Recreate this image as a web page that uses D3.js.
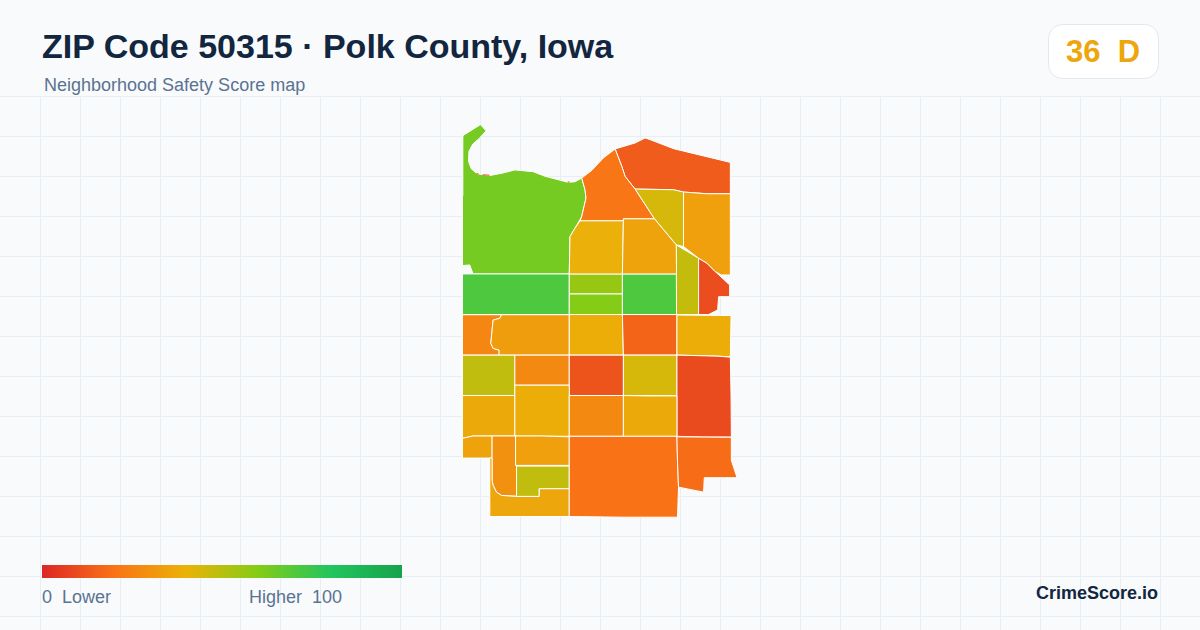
<!DOCTYPE html>
<html>
<head>
<meta charset="utf-8">
<script src="https://cdn.jsdelivr.net/npm/d3@7"></script>
<style>
  html, body { margin: 0; padding: 0; background: #f8fafc; }
  svg { display: block; }
  text { font-family: "Liberation Sans", Arial, Helvetica, sans-serif; white-space: pre; }
</style>
</head>
<body>
<script>
const width = 1200;
const height = 630;

const titleText = "ZIP Code 50315 \u00b7 Polk County, Iowa";
const subtitleText = "Neighborhood Safety Score map";
const brandText = "CrimeScore.io";
const zipScore = 36;
const zipGrade = "D";

const stopValues = [0, 20, 40, 60, 80, 100];
const stopColors = ["#dc2626", "#f97316", "#eab308", "#84cc16", "#22c55e", "#16a34a"];
const legendLow = "0  Lower";
const legendHigh = "Higher  100";

// block scores, same order as blockRings
const blockScores = [
  63, 71, 56, 60, 71, 47.5, 10, 14, 21, 44, 34, 39, 35,
  26, 33, 38, 16, 38,
  48, 27, 12, 44, 9.5,
  37, 38, 27, 37,
  35, 29, 34, 48, 36, 20, 18.5
];

// block outlines in map units (origin = NW corner of the ZIP)
const blockRings = [
  [[0.4,11],[18,0],[23.6,6.2],[16.6,14],[10.4,19.4],[6.5,26.7],[6.1,36.7],[8.8,44],[14.5,49],[27.3,50.8],[40.6,48.2],[52.3,45.2],[62.3,46.2],[70.6,47],[82.3,51.5],[95.6,55],[105.6,57.6],[112.3,57],[119,53.3],[122.3,65],[123.3,73.3],[119,91.7],[112.3,103.3],[107.3,111.7],[106.6,149],[10.6,149],[7.3,140],[0,140.7],[0,71.7],[0.4,71]],
  [[0,149],[106.6,149],[106.6,189.5],[0,189.5]],
  [[106.6,149],[159.6,149],[159.6,169],[106.6,169]],
  [[106.6,169],[159.6,169],[159.6,189.5],[106.6,189.5]],
  [[159.6,149],[213.6,149],[213.6,189.5],[159.6,189.5]],
  [[213.3,120],[235.6,133.3],[235.6,189.5],[213.6,189.5]],
  [[235.6,133.3],[244,138.3],[252.3,146.7],[266.6,160],[266.6,171.7],[255.6,171.7],[254.6,185],[245.6,189.5],[235.6,189.5]],
  [[152.3,24.3],[172.3,18.3],[182.3,13.3],[189,15.7],[210.6,24],[267.3,37.7],[267.3,69],[244,69],[220.6,67.3],[210.6,65],[172.3,64.3],[162.3,51.7],[159,41.7]],
  [[119,53.3],[129,45.7],[140.6,33.3],[152.3,24.3],[159,41.7],[162.3,51.7],[172.3,64.3],[191.6,94],[160.6,94],[160.6,96],[117.3,96],[119,91.7],[123.3,73.3],[122.3,65]],
  [[172.3,64.3],[210.6,65],[220.6,67.3],[220.6,121.7],[213.3,120],[191.6,94]],
  [[220.6,67.3],[244,69],[267.3,69],[267.3,150],[258.3,150],[252.3,146.7],[244,138.3],[235.6,133.3],[220.6,121.7]],
  [[117.3,96],[160.6,96],[159.6,149],[106.6,149],[107.3,111.7],[112.3,103.3]],
  [[160.6,94],[191.6,94],[213.3,120],[213.6,149],[159.6,149]],
  [[0,189.7],[39,189.7],[37.3,193.3],[30.6,195],[29.6,205],[28.3,218.3],[30.6,223.3],[36.6,225],[36.6,230],[0,230]],
  [[39,189.7],[106.6,189.7],[106.6,230],[36.6,230],[36.6,225],[30.6,223.3],[28.3,218.3],[29.6,205],[30.6,195],[37.3,193.3]],
  [[106.6,189.5],[159.6,189.5],[160.6,230],[106.6,230]],
  [[159.6,189.5],[214,189.5],[214,230],[160.6,230]],
  [[214,190],[268,190.5],[267.3,231.7],[254,231],[214,230]],
  [[0,230],[52.3,230],[52.3,270.3],[0,270.3]],
  [[52.3,230],[106.6,230],[106.6,260],[52.3,260]],
  [[106.6,230],[160.6,230],[160.6,270.3],[106.6,270.3]],
  [[160.6,230],[214,230],[214,270.7],[183,270.3],[160.6,270.3]],
  [[214,230],[254,231],[267.3,232],[268,271.7],[268.3,311.7],[240.6,311.7],[214,311]],
  [[0,270.3],[52.3,270.3],[52.3,310.7],[10.6,310.7],[0,313]],
  [[52.3,260],[106.6,260],[106.6,311],[52.3,310.7]],
  [[106.6,270.3],[160.6,270.3],[160.6,311],[106.6,311]],
  [[160.6,270.3],[183,270.7],[214,270.7],[214,311],[160.6,311]],
  [[0,313],[10.6,310.7],[29.6,310.7],[29.6,332.7],[0,332.7]],
  [[29.6,310.7],[53,310.7],[53,340],[54,340.7],[54,370.7],[39,370],[34,366.7],[30.6,360],[29.6,355]],
  [[53,310.7],[79,310.7],[106.6,311.5],[106.6,340],[53,340]],
  [[54,340.7],[106.6,340.7],[106.6,363.3],[76.6,363.3],[76.6,371],[54,371]],
  [[29.6,332.7],[29.6,355],[30.6,360],[34,366.7],[39,370],[54,371],[76.6,371],[76.6,363.3],[106.6,363.3],[106.6,391],[27.3,391],[27.3,332.7]],
  [[106.6,311],[214,311],[214.6,336.7],[215.6,361.7],[214.6,391.7],[160.6,391.7],[106.6,391]],
  [[214,311.5],[268.3,312],[268.3,335],[274,352.3],[241.3,352.3],[240.6,366.7],[215.6,361.7],[214.6,336.7]]
];

// thin bits of a neighbouring block that show along the green edge
const sliverScore = 10;
const sliverRings = [
  [[14,48.4],[16,48.8],[16,49.8],[14,49.4]],
  [[20.3,49.6],[27,50],[27,51],[20.3,50.6]],
  [[105,56.8],[107,56.8],[107,57.8],[105,57.8]]
];

const color = d3.scaleLinear().domain(stopValues).range(stopColors).clamp(true);

const svg = d3.select("body").append("svg").attr("width", width).attr("height", height);
const defs = svg.append("defs");

svg.append("rect").attr("width", width).attr("height", height).attr("fill", "#f8fafc");

// background grid, starts under the header
const grid = svg.append("g").attr("stroke", "#e8eff4").attr("stroke-width", 1);
grid.selectAll("line.v")
  .data(d3.range(40, width, 40))
  .enter()
  .append("line")
  .attr("class", "v")
  .attr("x1", (d) => d + 0.5)
  .attr("x2", (d) => d + 0.5)
  .attr("y1", 96)
  .attr("y2", height);
grid.selectAll("line.h")
  .data(d3.range(96, height, 40))
  .enter()
  .append("line")
  .attr("class", "h")
  .attr("x1", 0)
  .attr("x2", width)
  .attr("y1", (d) => d + 0.5)
  .attr("y2", (d) => d + 0.5);

// map
const toFeature = (ring, score) => ({
  type: "Feature",
  properties: { score },
  geometry: { type: "Polygon", coordinates: [ring.concat([ring[0]])] },
});
const blocks = {
  type: "FeatureCollection",
  features: blockRings.map((ring, i) => toFeature(ring, blockScores[i])),
};
const projection = d3.geoIdentity().fitExtent([[462.4, 124.6], [737.1, 517.2]], blocks);
const path = d3.geoPath(projection);

svg.append("g")
  .selectAll("path")
  .data(blocks.features)
  .enter()
  .append("path")
  .attr("d", path)
  .attr("fill", (d) => color(d.properties.score))
  .attr("stroke", "#ffffff")
  .attr("stroke-width", 1);

svg.append("g")
  .selectAll("path")
  .data(sliverRings.map((ring) => toFeature(ring, sliverScore)))
  .enter()
  .append("path")
  .attr("d", path)
  .attr("fill", (d) => color(d.properties.score));

// header
svg.append("text")
  .attr("x", 42)
  .attr("y", 58)
  .attr("font-size", 34)
  .attr("font-weight", 700)
  .attr("fill", "#12263f")
  .text(titleText);
svg.append("text")
  .attr("x", 44)
  .attr("y", 91)
  .attr("font-size", 18)
  .attr("fill", "#5a7391")
  .text(subtitleText);

// score badge
svg.append("rect")
  .attr("x", 1048.5)
  .attr("y", 24.5)
  .attr("width", 110)
  .attr("height", 54)
  .attr("rx", 14)
  .attr("fill", "#ffffff")
  .attr("stroke", "#e2e8f0");
svg.append("text")
  .attr("x", 1103)
  .attr("y", 62)
  .attr("text-anchor", "middle")
  .attr("font-size", 31)
  .attr("font-weight", 700)
  .attr("fill", color(zipScore))
  .text(`${zipScore}  ${zipGrade}`);

// legend
const legendScale = d3.scaleLinear().domain([0, 100]).range([42, 402]);
const gradient = defs.append("linearGradient").attr("id", "legend-gradient");
gradient.selectAll("stop")
  .data(stopValues)
  .enter()
  .append("stop")
  .attr("offset", (d) => `${d}%`)
  .attr("stop-color", (d) => color(d));
svg.append("rect")
  .attr("x", legendScale(0))
  .attr("y", 565)
  .attr("width", legendScale(100) - legendScale(0))
  .attr("height", 13)
  .attr("fill", "url(#legend-gradient)");
svg.append("text")
  .attr("x", 42)
  .attr("y", 603)
  .attr("font-size", 18)
  .attr("fill", "#5a7391")
  .text(legendLow);
svg.append("text")
  .attr("x", 249)
  .attr("y", 603)
  .attr("font-size", 18)
  .attr("fill", "#5a7391")
  .text(legendHigh);

// brand
svg.append("text")
  .attr("x", 1158)
  .attr("y", 599)
  .attr("text-anchor", "end")
  .attr("font-size", 18)
  .attr("font-weight", 700)
  .attr("fill", "#12263f")
  .text(brandText);
</script>
</body>
</html>
